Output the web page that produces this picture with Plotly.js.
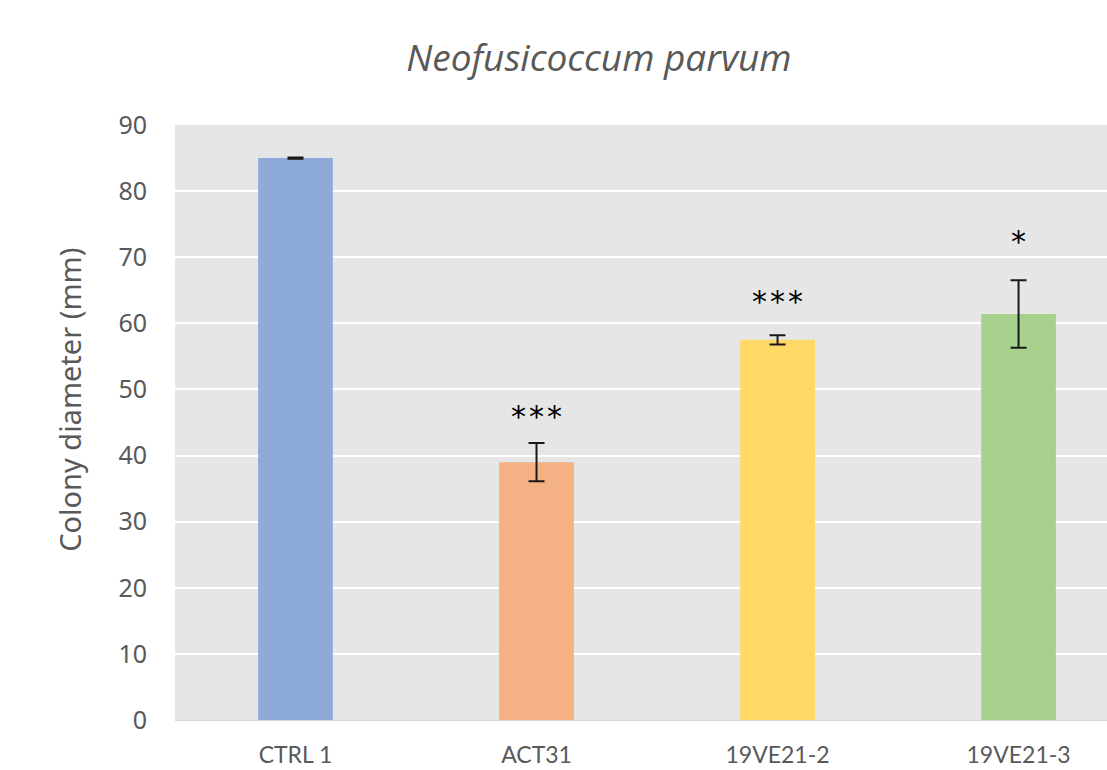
<!DOCTYPE html>
<html>
<head>
<meta charset="utf-8">
<script src="https://cdn.plot.ly/plotly-3.0.1.min.js"></script>
<style>html,body{margin:0;padding:0;background:#fff;overflow:hidden}</style>
</head>
<body>
<div id="chart" style="width:1107px;height:770px"></div>
<script>
const categories = ["CTRL 1", "ACT31", "19VE21-2", "19VE21-3"];
const diameters = [85.0, 39.0, 57.5, 61.4];
const errors = [0.1, 2.9, 0.7, 5.1];
const barColors = ["#8eaadb", "#f4b183", "#ffd966", "#a9d18e"];
const significance = ["", "*\u200A*\u200A*", "*\u200A*\u200A*", "*"];
const sigLabelY = [null, 45.9, 63.3, 72.4];

const trace = {
  type: "bar",
  x: categories,
  y: diameters,
  width: 0.31,
  marker: {color: barColors},
  error_y: {type: "data", array: errors, visible: true, color: "#1a1a1a", thickness: 2, width: 8},
  hoverinfo: "x+y"
};

const annotations = [];
categories.forEach((c, i) => {
  if (significance[i]) {
    annotations.push({
      x: c, y: sigLabelY[i], xref: "x", yref: "y",
      text: significance[i], showarrow: false,
      font: {family: "DejaVu Sans", size: 30, color: "#000"},
      yanchor: "middle"
    });
  }
});
annotations.push({
  text: "Colony diameter (mm)", textangle: -90, showarrow: false,
  xref: "paper", yref: "paper", x: -0.1127, y: 0.538,
  xanchor: "center", yanchor: "middle",
  font: {family: "Noto Sans", size: 29, color: "#595959"}
});

const layout = {
  width: 1107, height: 770,
  margin: {l: 175, r: 0, t: 125, b: 50, pad: 0},
  paper_bgcolor: "#ffffff",
  plot_bgcolor: "#e6e6e6",
  showlegend: false,
  title: {
    text: "<i>Neofusicoccum parvum</i>",
    font: {family: "Open Sans", size: 37, color: "#595959"},
    xref: "container", yref: "container",
    x: 0.541, xanchor: "center", y: 0.925, yanchor: "middle"
  },
  xaxis: {
    type: "category",
    range: [-0.5, 3.367],
    showgrid: false,
    zeroline: false,
    showline: true, linecolor: "#d9d9d9", linewidth: 1,
    ticks: "",
    ticklabelstandoff: 14,
    tickfont: {family: "Lato", size: 23, color: "#595959"}
  },
  yaxis: {
    range: [0, 90],
    dtick: 10,
    showgrid: true, gridcolor: "#ffffff", gridwidth: 2,
    zeroline: false,
    showline: false,
    ticks: "",
    ticklabelstandoff: 27,
    tickfont: {family: "Noto Sans", size: 25, color: "#595959"}
  },
  annotations: annotations,
  bargap: 0.69
};

Plotly.newPlot("chart", [trace], layout, {displayModeBar: false, staticPlot: true});
</script>
</body>
</html>
